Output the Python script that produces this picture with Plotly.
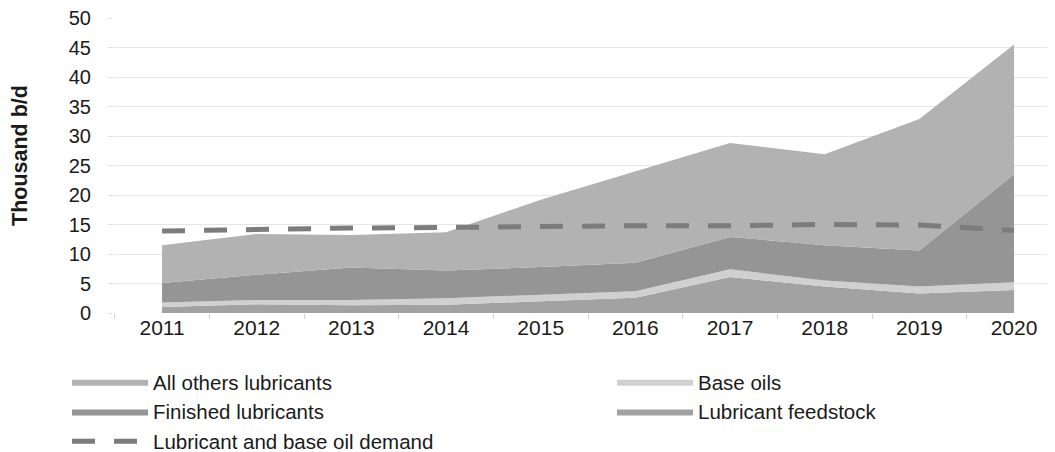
import plotly.graph_objects as go

years = [2011, 2012, 2013, 2014, 2015, 2016, 2017, 2018, 2019, 2020]
lubricant_feedstock = [1.0, 1.5, 1.3, 1.4, 2.0, 2.6, 6.1, 4.5, 3.3, 3.9]
base_oils = [0.8, 0.7, 0.9, 1.1, 1.1, 1.1, 1.3, 1.0, 1.2, 1.3]
finished_lubricants = [3.3, 4.3, 5.5, 4.7, 4.7, 4.8, 5.5, 6.0, 6.1, 18.3]
all_others_lubricants = [6.4, 6.9, 5.5, 6.5, 11.4, 15.5, 15.9, 15.4, 22.3, 22.0]
demand = [13.9, 14.2, 14.4, 14.5, 14.7, 14.8, 14.8, 15.0, 14.9, 14.0]
y_ticks = [0, 5, 10, 15, 20, 25, 30, 35, 40, 45, 50]

FONT = "Liberation Sans, Arial, sans-serif"

# the page adds an 8px body margin, so the figure is sized to the visible area
W, H = 1047, 444
L, R, T, B = 105, 5, 10, 139
PW, PH = W - L - R, H - T - B

fig = go.Figure()

def area(name, vals, color, legend, rank):
    fig.add_trace(go.Scatter(
        x=years, y=vals, name=name, mode="lines", stackgroup="one",
        line=dict(width=0, color=color), fillcolor=color,
        legend=legend, legendrank=rank, hoverinfo="x+y+name",
    ))

area("Lubricant feedstock", lubricant_feedstock, "#a2a2a2", "legend2", 2)
area("Base oils", base_oils, "#d0d0d0", "legend2", 1)
area("Finished lubricants", finished_lubricants, "#959595", "legend", 2)
area("All others lubricants", all_others_lubricants, "#b2b2b2", "legend", 1)

fig.add_trace(go.Scatter(
    x=years, y=demand, name="Lubricant and base oil demand", mode="lines",
    line=dict(color="#7c7c7c", width=5, dash="23px,19px"),
    legend="legend", legendrank=3,
))

def px_x(px):
    return (px - L) / PW

def px_y(py):
    return (H - B - py) / PH

legend_common = dict(
    orientation="v", xanchor="left", yanchor="top", xref="paper", yref="container",
    font=dict(family=FONT, size=20.5, color="#1a1a1a"),
    bgcolor="rgba(0,0,0,0)", itemwidth=76, tracegroupgap=0, traceorder="normal",
)

LEG_TOP = 354

fig.update_layout(
    width=W, height=H,
    margin=dict(l=L, r=R, t=T, b=B),
    paper_bgcolor="white", plot_bgcolor="white",
    font=dict(family=FONT, size=20, color="#1a1a1a"),
    showlegend=True,
    legend=dict(x=px_x(59), y=1 - LEG_TOP / H, **legend_common),
    legend2=dict(x=px_x(604), y=1 - LEG_TOP / H, **legend_common),
    xaxis=dict(
        range=[2010.482, 2020.380], tickvals=years, ticktext=[str(y) for y in years],
        showgrid=False, zeroline=False, showline=False, ticks="", automargin=False,
        minor=dict(tick0=2010.5, dtick=1, ticks="outside", ticklen=5,
                   tickcolor="#d0d0d0", showgrid=False),
        tickfont=dict(family=FONT, size=21, color="#1a1a1a"),
    ),
    yaxis=dict(
        range=[0, 50], tickvals=y_ticks, showgrid=True, gridcolor="#e6e6e6",
        gridwidth=1, zeroline=False, showline=False, automargin=False,
        ticks="outside", ticklen=4, tickcolor="#e0e0e0", ticklabelstandoff=13,
        ticklabeloverflow="allow",
        tickfont=dict(family=FONT, size=20, color="#1a1a1a"),
    ),
    annotations=[dict(
        text="<b>Thousand b/d</b>", textangle=-90, showarrow=False,
        xref="paper", yref="paper", x=px_x(12), y=px_y(148),
        xanchor="center", yanchor="middle",
        font=dict(family=FONT, size=21.5, color="#1a1a1a"),
    )],
)

fig.write_html("out.html")
